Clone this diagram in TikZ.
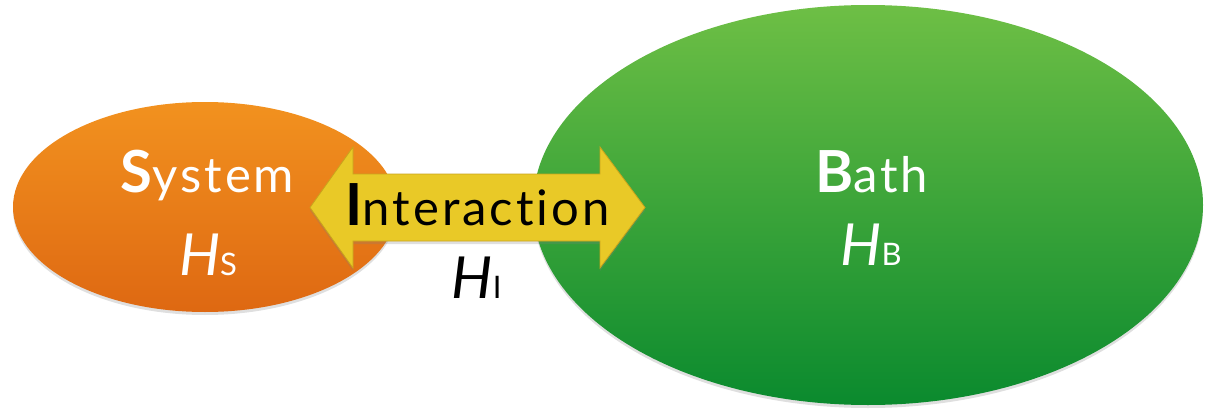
\documentclass[tikz,border=0pt]{standalone}
\usepackage{fontspec}
\setmainfont{Lato}
\newfontfamily\wordfont[LetterSpace=6,Ligatures=NoCommon]{Lato}
\usetikzlibrary{shadows}
\definecolor{orTop}{HTML}{F2921F}
\definecolor{orBot}{HTML}{DE6812}
\definecolor{grTop}{HTML}{6EBF45}
\definecolor{grBot}{HTML}{0A8A2E}
\definecolor{arrFill}{HTML}{E9C927}
\definecolor{arrEdge}{HTML}{C9A41C}
\tikzset{
  blob/.style={drop shadow={opacity=0.25,shadow xshift=0pt,shadow yshift=-3pt}},
  lbl/.style={anchor=base,inner sep=0pt,text=white},
  darklbl/.style={anchor=base,inner sep=0pt,text=black},
  bigfont/.style={font=\wordfont\fontsize{49}{52}\selectfont},
  hfont/.style={font=\fontsize{58}{60}\selectfont\itshape},
}
\newcommand{\firstL}[1]{{\fontsize{58}{58}\selectfont\bfseries #1}}
\newcommand{\subL}[1]{{\fontsize{31}{31}\selectfont\upshape #1}}
\begin{document}
\begin{tikzpicture}[x=1pt,y=1pt]
\useasboundingbox (0,0) rectangle (1213,408);
% ellipses
\path[blob,top color=orTop,bottom color=orBot] (205,201) ellipse [x radius=192,y radius=105];
\path[blob,top color=grTop,bottom color=grBot] (868,203) ellipse [x radius=335,y radius=200];
% double block arrow
\coordinate (lt) at (310,200.5);
\coordinate (rt) at (645,200.5);
\path[blob,fill=arrFill,draw=arrEdge,line width=0.8pt,line join=miter]
  (lt) -- (353,261) -- (353,234) -- (600,234) -- (600,261) -- (rt)
  -- (600,140) -- (600,167) -- (353,167) -- (353,140) -- cycle;
% labels
\node[lbl,bigfont] (sys) at (207.5,216) {\firstL{S}ystem};
\node[lbl,hfont] (hs) at (208,133) {H\subL{S}};
\node[lbl,bigfont] (bath) at (871.5,216) {\firstL{B}ath};
\node[lbl,hfont] (hb) at (871,143) {H\subL{B}};
\node[darklbl,bigfont] (inter) at (477.5,183) {\firstL{I}nteraction};
\node[darklbl,hfont] (hi) at (476.5,110) {H\subL{I}};
\end{tikzpicture}
\end{document}
